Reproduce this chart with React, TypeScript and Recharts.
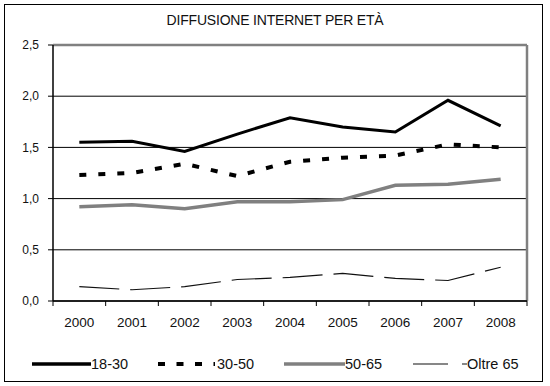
import { LineChart, Line, XAxis, YAxis, CartesianGrid, ReferenceLine } from "recharts";

const years = ["2000", "2001", "2002", "2003", "2004", "2005", "2006", "2007", "2008"];
const age18_30 = [1.55, 1.56, 1.46, 1.63, 1.79, 1.7, 1.65, 1.96, 1.71];
const age30_50 = [1.23, 1.25, 1.34, 1.22, 1.36, 1.4, 1.42, 1.53, 1.5];
const age50_65 = [0.92, 0.94, 0.9, 0.97, 0.97, 0.99, 1.13, 1.14, 1.19];
const over65 = [0.14, 0.11, 0.14, 0.21, 0.23, 0.27, 0.22, 0.2, 0.33];
const yTicks = [0, 0.5, 1, 1.5, 2, 2.5];
const bandTicks = [0, 1, 2, 3, 4, 5, 6, 7, 8, 9];

// ogni anno sta al centro della sua fascia (come in Excel)
const data = years.map((y, i) => ({
  pos: i + 0.5,
  year: y,
  "18-30": age18_30[i],
  "30-50": age30_50[i],
  "50-65": age50_65[i],
  "Oltre 65": over65[i],
}));

const font = "'Liberation Sans', Arial, sans-serif";
const W = 550;
const H = 386;
const M = { top: 45, right: 23, left: 0, bottom: 0 };
const Y_W = 53;
const BAND = (W - M.left - M.right - Y_W) / years.length;

const YearTick = ({ x, y, payload }: any) => {
  const label = years[payload.value];
  if (!label) return <g />;
  return (
    <text x={x + BAND / 2} y={y} dy="0.71em" textAnchor="middle" fontSize={13.5} fill="#111" fontFamily={font}>
      {label}
    </text>
  );
};

// legenda disegnata a mano, come quella di Excel
const LegendBox = () => (
  <svg width={550} height={30} style={{ position: "absolute", left: 0, top: 350 }}>
    <g fontFamily={font} fontSize={14.5} fill="#111">
      <line x1={32} x2={91} y1={14} y2={14} stroke="#000" strokeWidth={3.5} />
      <text x={91} y={19}>18-30</text>
      <line x1={158} x2={215} y1={14} y2={14} stroke="#000" strokeWidth={4} strokeDasharray="7 11.5" />
      <text x={217} y={19}>30-50</text>
      <line x1={284} x2={345} y1={14} y2={14} stroke="#808080" strokeWidth={3.5} />
      <text x={345} y={19}>50-65</text>
      <line x1={413} x2={467} y1={14} y2={14} stroke="#111" strokeWidth={1.2} strokeDasharray="35 14" />
      <text x={467} y={19}>Oltre 65</text>
    </g>
  </svg>
);

export default function App() {
  return (
    <div style={{ position: "absolute", left: 0, top: 0, width: W, height: H, background: "#fff" }}>
      <div
        style={{
          position: "absolute", left: 4, top: 4, width: 537, height: 376,
          border: "1px solid #000",
        }}
      />
      <div
        style={{
          position: "absolute", left: 0, top: 12, width: W, textAlign: "center",
          fontFamily: font, fontSize: 14, color: "#111", letterSpacing: -0.2,
        }}
      >
        DIFFUSIONE INTERNET PER ETÀ
      </div>
      <LineChart
        width={W}
        height={H}
        data={data}
        margin={M}
        style={{ position: "absolute", left: 0, top: 0 }}
      >
        <CartesianGrid vertical={false} stroke="#000" strokeWidth={1} />
        <XAxis
          dataKey="pos"
          type="number"
          domain={[0, 9]}
          ticks={bandTicks}
          interval={0}
          height={85}
          tickSize={5}
          tickMargin={11}
          tick={YearTick}
          tickLine={{ stroke: "#000" }}
          axisLine={{ stroke: "#000", strokeWidth: 1.5 }}
        />
        <YAxis
          width={Y_W}
          domain={[0, 2.5]}
          ticks={yTicks}
          tickSize={5}
          tickMargin={9}
          tickFormatter={(v: number) => v.toFixed(1).replace(".", ",")}
          tick={{ fontSize: 12, fill: "#111", fontFamily: font }}
          tickLine={{ stroke: "#000" }}
          axisLine={{ stroke: "#000", strokeWidth: 1.5 }}
        />
        <ReferenceLine y={2.5} stroke="#808080" strokeWidth={2.5} />
        <ReferenceLine x={9} stroke="#808080" strokeWidth={2.5} />
        <Line dataKey="18-30" stroke="#000" strokeWidth={3} dot={false} isAnimationActive={false} />
        <Line dataKey="30-50" stroke="#000" strokeWidth={4} strokeDasharray="7 12" dot={false} isAnimationActive={false} />
        <Line dataKey="50-65" stroke="#808080" strokeWidth={3.5} dot={false} isAnimationActive={false} />
        <Line dataKey="Oltre 65" stroke="#111" strokeWidth={1.2} strokeDasharray="40 11" dot={false} isAnimationActive={false} />
      </LineChart>
      <LegendBox />
    </div>
  );
}
